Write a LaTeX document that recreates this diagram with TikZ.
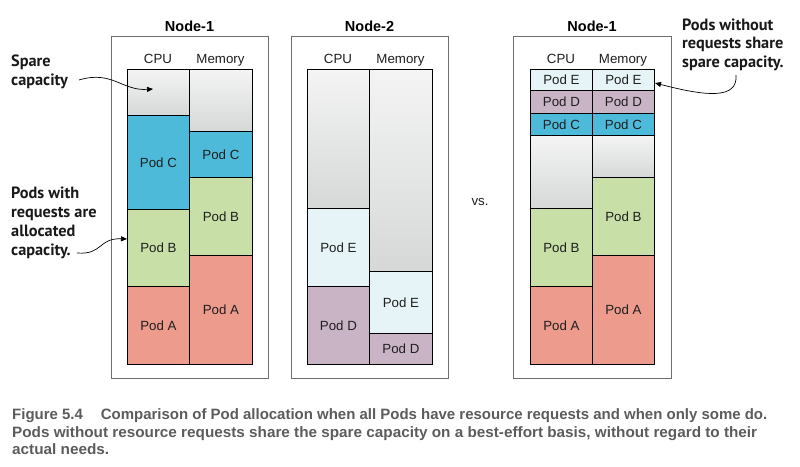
\documentclass[tikz,border=0pt]{standalone}
\usepackage{fontspec}
\usepackage{graphicx}
\setmainfont{Liberation Sans}
\newfontfamily\annfont{PT Sans}
\usetikzlibrary{arrows.meta}
\definecolor{podA}{RGB}{236,155,140}
\definecolor{podB}{RGB}{200,224,168}
\definecolor{podC}{RGB}{78,186,218}
\definecolor{podD}{RGB}{201,180,198}
\definecolor{podE}{RGB}{230,244,248}
\definecolor{sparetop}{RGB}{244,244,244}
\definecolor{sparebot}{RGB}{214,216,216}
\definecolor{boxgray}{RGB}{110,110,110}
\definecolor{captiongray}{RGB}{92,92,92}
\tikzset{
  segbox/.style={draw=black, line width=0.8pt, inner sep=0pt, anchor=north west,
    font=\fontsize{13.3}{15}\selectfont, text=black!88},
  pa/.style={segbox, fill=podA},
  pb/.style={segbox, fill=podB},
  pc/.style={segbox, fill=podC},
  pd/.style={segbox, fill=podD},
  pe/.style={segbox, fill=podE},
  sp/.style={segbox, top color=sparetop, bottom color=sparebot},
  outerbox/.style={draw=boxgray, line width=0.9pt, fill=white},
  title/.style={font=\fontsize{14.5}{16}\selectfont\bfseries, anchor=base, inner sep=0pt},
  colhead/.style={font=\fontsize{13.3}{15}\selectfont, anchor=base, inner sep=0pt, text=black!88},
  anntext/.style={font=\annfont\bfseries\fontsize{16.3}{18.7}\selectfont, align=left,
    anchor=base west, inner sep=0pt, text=black!90},
  annarrow/.style={line width=0.7pt, -{Triangle[length=6pt,width=5pt]}},
  capline/.style={font=\fontsize{15}{17}\selectfont\bfseries, text=captiongray,
    anchor=base west, inner sep=0pt},
}
% \seg{name}{x}{y}{w}{h}{style}{label}
\newcommand\seg[7]{\node[#6, minimum width=#4pt, minimum height=#5pt] (#1) at (#2,#3) {#7};}
\begin{document}
\begin{tikzpicture}[x=1pt,y=-1pt]
\useasboundingbox (0,0) rectangle (800,466);
\fill[white] (0,0) rectangle (800,466);

% ---------- Node-1 (left) ----------
\draw[outerbox] (111,36) rectangle (268,378);
\node[title] (t1) at (189.5,31) {Node-1};
\node[colhead] (h1c) at (158,63) {CPU};
\node[colhead] (h1m) at (220.5,63) {Memory};
\seg{l1cs}{127}{69}{62}{46}{sp}{}
\seg{l1cc}{127}{115}{62}{94}{pc}{Pod C}
\seg{l1cb}{127}{209}{62}{77}{pb}{Pod B}
\seg{l1ca}{127}{286}{62}{78}{pa}{Pod A}
\seg{l1ms}{189}{69}{63}{62}{sp}{}
\seg{l1mc}{189}{131}{63}{46}{pc}{Pod C}
\seg{l1mb}{189}{177}{63}{78}{pb}{Pod B}
\seg{l1ma}{189}{255}{63}{109}{pa}{Pod A}

% ---------- Node-2 ----------
\draw[outerbox] (291,36) rectangle (448,378);
\node[title] (t2) at (369.5,31) {Node-2};
\node[colhead] (h2c) at (338,63) {CPU};
\node[colhead] (h2m) at (400.5,63) {Memory};
\seg{n2cs}{307}{69}{62}{139}{sp}{}
\seg{n2ce}{307}{208}{62}{78}{pe}{Pod E}
\seg{n2cd}{307}{286}{62}{78}{pd}{Pod D}
\seg{n2ms}{369}{69}{63}{202}{sp}{}
\seg{n2me}{369}{271}{63}{62}{pe}{Pod E}
\seg{n2md}{369}{333}{63}{31}{pd}{Pod D}

\node[colhead] (vs) at (480,205) {vs.};

% ---------- Node-1 (right) ----------
\draw[outerbox] (513,36) rectangle (671,378);
\node[title] (t3) at (592,31) {Node-1};
\node[colhead] (h3c) at (561,63) {CPU};
\node[colhead] (h3m) at (623,63) {Memory};
\seg{r1ce}{530}{69}{62}{21}{pe}{Pod E}
\seg{r1cd}{530}{90}{62}{23}{pd}{Pod D}
\seg{r1cc}{530}{113}{62}{22}{pc}{Pod C}
\seg{r1cs}{530}{135}{62}{73}{sp}{}
\seg{r1cb}{530}{208}{62}{78}{pb}{Pod B}
\seg{r1ca}{530}{286}{62}{78}{pa}{Pod A}
\seg{r1me}{592}{69}{62}{21}{pe}{Pod E}
\seg{r1md}{592}{90}{62}{23}{pd}{Pod D}
\seg{r1mc}{592}{113}{62}{22}{pc}{Pod C}
\seg{r1ms}{592}{135}{62}{42}{sp}{}
\seg{r1mb}{592}{177}{62}{78}{pb}{Pod B}
\seg{r1ma}{592}{255}{62}{109}{pa}{Pod A}

% ---------- annotations (anchor = baseline of last line) ----------
\node[anntext] (ann1) at (11,85.5) {Spare\\capacity};
\coordinate (a1s) at (79,80);
\coordinate (a1e) at (153,89);
\draw[annarrow] (a1s) .. controls (112,70) and (122,91) .. (a1e);

\node[anntext] (ann2) at (11,255) {Pods with\\requests are\\allocated\\capacity.};
\coordinate (a2s) at (77,253);
\coordinate (a2e) at (127,239);
\draw[annarrow] (a2s) .. controls (103,255) and (98,238) .. (a2e);

\node[anntext] (ann3) at (682,67.5) {Pods without\\requests share\\spare capacity.};
\coordinate (a3s) at (736,75);
\coordinate (a3e) at (655,83);
\draw[annarrow] (a3s) .. controls (738,100) and (705,96) .. (a3e);

% ---------- caption ----------
\node[capline] (cap1) at (12,419) {\resizebox{755pt}{\height}{Figure 5.4\hspace{1.2em}Comparison of Pod allocation when all Pods have resource requests and when only some do.}};
\node[capline] (cap2) at (12,437) {\resizebox{745pt}{\height}{Pods without resource requests share the spare capacity on a best-effort basis, without regard to their}};
\node[capline] (cap3) at (12,454) {\resizebox{97pt}{\height}{actual needs.}};
\end{tikzpicture}
\end{document}
